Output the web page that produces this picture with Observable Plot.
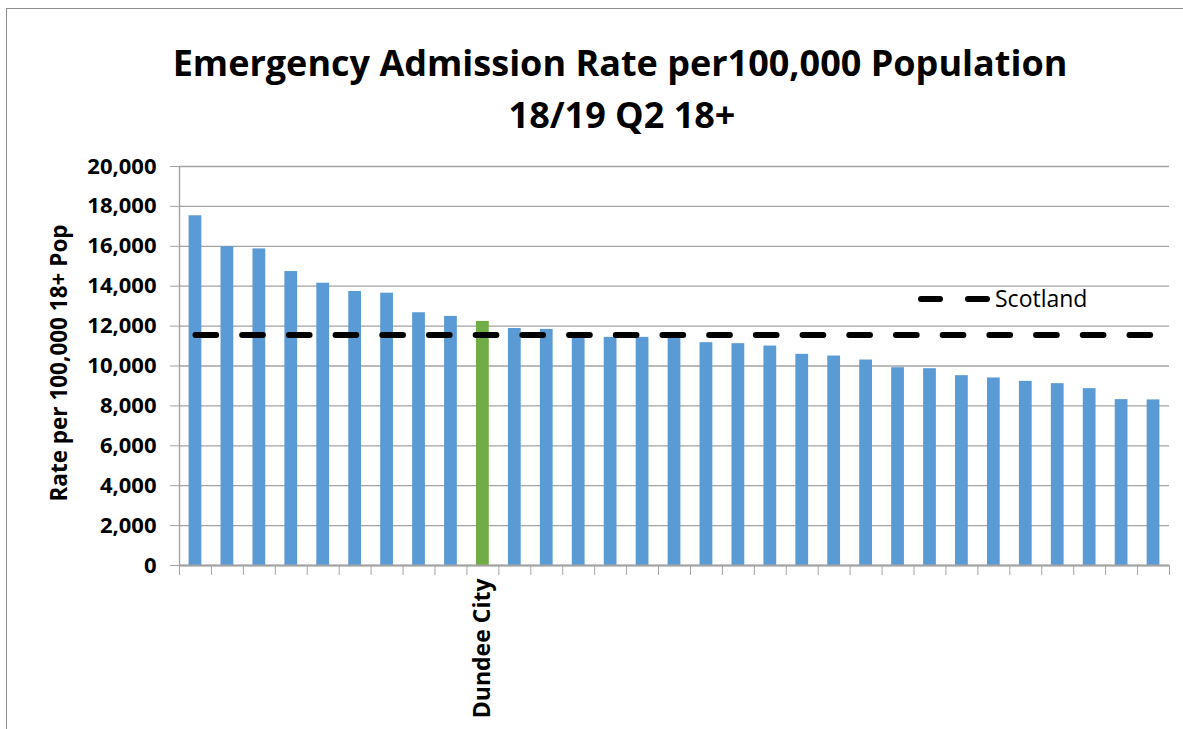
<!DOCTYPE html>
<html>
<head>
<meta charset="utf-8">
<script src="https://cdn.jsdelivr.net/npm/d3@7"></script>
<script src="https://cdn.jsdelivr.net/npm/@observablehq/plot@0.6"></script>
<style>
  html, body { margin: 0; padding: 0; background: #fff; }
  #wrap { position: relative; width: 1183px; height: 729px; overflow: hidden; font-family: "Open Sans", sans-serif; }
  #border { position: absolute; left: 6px; top: 8px; width: 1300px; height: 900px; border: 1.4px solid #8e8e8e; box-sizing: border-box; }
  #titlebox { position: relative; display: block; }
  #chart { position: relative; }
  #legend { position: absolute; left: 0; top: 0; pointer-events: none; }
</style>
</head>
<body>
<div id="wrap">
  <div id="border"></div>
  <svg id="titlebox" width="1183" height="150">
    <text x="620" y="76" text-anchor="middle" font-family="Open Sans" font-weight="bold" font-size="36">Emergency Admission Rate per100,000 Population</text>
    <text x="622" y="128" text-anchor="middle" font-family="Open Sans" font-weight="bold" font-size="36">18/19 Q2 18+</text>
  </svg>
  <div id="chart"></div>
  <svg id="legend" width="1183" height="729">
    <line x1="921" x2="987" y1="299" y2="299" stroke="#000" stroke-width="6" stroke-linecap="round" stroke-dasharray="19,28"></line>
    <text x="995" y="307" font-family="Open Sans" font-size="23" fill="#000">Scotland</text>
  </svg>
</div>
<script>
// ---- data ----
const categories = [
  "HSCP 1", "HSCP 2", "HSCP 3", "HSCP 4", "HSCP 5", "HSCP 6", "HSCP 7", "HSCP 8", "HSCP 9",
  "Dundee City",
  "HSCP 11", "HSCP 12", "HSCP 13", "HSCP 14", "HSCP 15", "HSCP 16", "HSCP 17", "HSCP 18",
  "HSCP 19", "HSCP 20", "HSCP 21", "HSCP 22", "HSCP 23", "HSCP 24", "HSCP 25", "HSCP 26",
  "HSCP 27", "HSCP 28", "HSCP 29", "HSCP 30", "HSCP 31"
];
const rates = [
  17530, 15980, 15870, 14735, 14150, 13735, 13650, 12670, 12485,
  12235,
  11880, 11835, 11580, 11435, 11435, 11410, 11170, 11120,
  11000, 10585, 10500, 10300, 9915, 9865, 9515, 9400,
  9230, 9115, 8865, 8315, 8300
];
const highlighted = "Dundee City";
const scotlandRate = 11550;
const scotlandLabel = "Scotland";
const yTicks = [0, 2000, 4000, 6000, 8000, 10000, 12000, 14000, 16000, 18000, 20000];
const yLabel = "Rate per 100,000 18+ Pop";

const rows = categories.map((name, i) => ({ name, pos: i, value: rates[i] }));

const blue = "#5b9bd5", green = "#70ad47", gridColor = "#a3a3a3";
const width = 1183, marginLeft = 179, marginRight = 14;
const step = (width - marginLeft - marginRight) / categories.length;
const inset = step * 0.3;

const plot = Plot.plot({
  width,
  height: 579,
  marginTop: 16,
  marginBottom: 164,
  marginLeft,
  marginRight,
  style: { fontFamily: "Open Sans", background: "transparent", overflow: "visible" },
  x: { domain: [0, categories.length], axis: null },
  y: { domain: [0, 20000], axis: null },
  marks: [
    Plot.gridY(yTicks, { stroke: gridColor, strokeOpacity: 1, strokeWidth: 1.3 }),
    Plot.rectY(rows, {
      x1: "pos", x2: d => d.pos + 1, y: "value",
      insetLeft: inset, insetRight: inset,
      fill: d => d.name === highlighted ? green : blue
    }),
    Plot.ruleX([0], { stroke: gridColor, strokeWidth: 1.4 }),
    Plot.ruleY([0], { stroke: gridColor, strokeWidth: 2 }),
    Plot.axisY({
      ticks: yTicks, tickFormat: d3.format(","), tickSize: 9, tickPadding: 14,
      stroke: gridColor, fontSize: 22, fontWeight: "bold", fill: "#000", label: null
    }),
    Plot.axisX({
      ticks: d3.range(categories.length + 1), tickFormat: () => "", tickSize: 10,
      stroke: gridColor, label: null
    }),
    Plot.text(rows.filter(d => d.name === highlighted), {
      x: d => d.pos + 0.5, y: 0, text: "name", rotate: -90,
      textAnchor: "end", lineAnchor: "middle", dy: 13,
      fontSize: 23, fontWeight: "bold", fill: "#000"
    }),
    Plot.lineY(rows, {
      x: d => d.pos + 0.5, y: () => scotlandRate,
      stroke: "#000", strokeWidth: 6, strokeLinecap: "round",
      strokeDasharray: "20.7,26"
    }),
    Plot.text([yLabel], {
      frameAnchor: "left", textAnchor: "middle", lineAnchor: "middle", rotate: -90, dx: -120, dy: -3,
      fontSize: 22.5, fontWeight: "bold", fill: "#000"
    })
  ]
});
document.getElementById("chart").appendChild(plot);
</script>
</body>
</html>
